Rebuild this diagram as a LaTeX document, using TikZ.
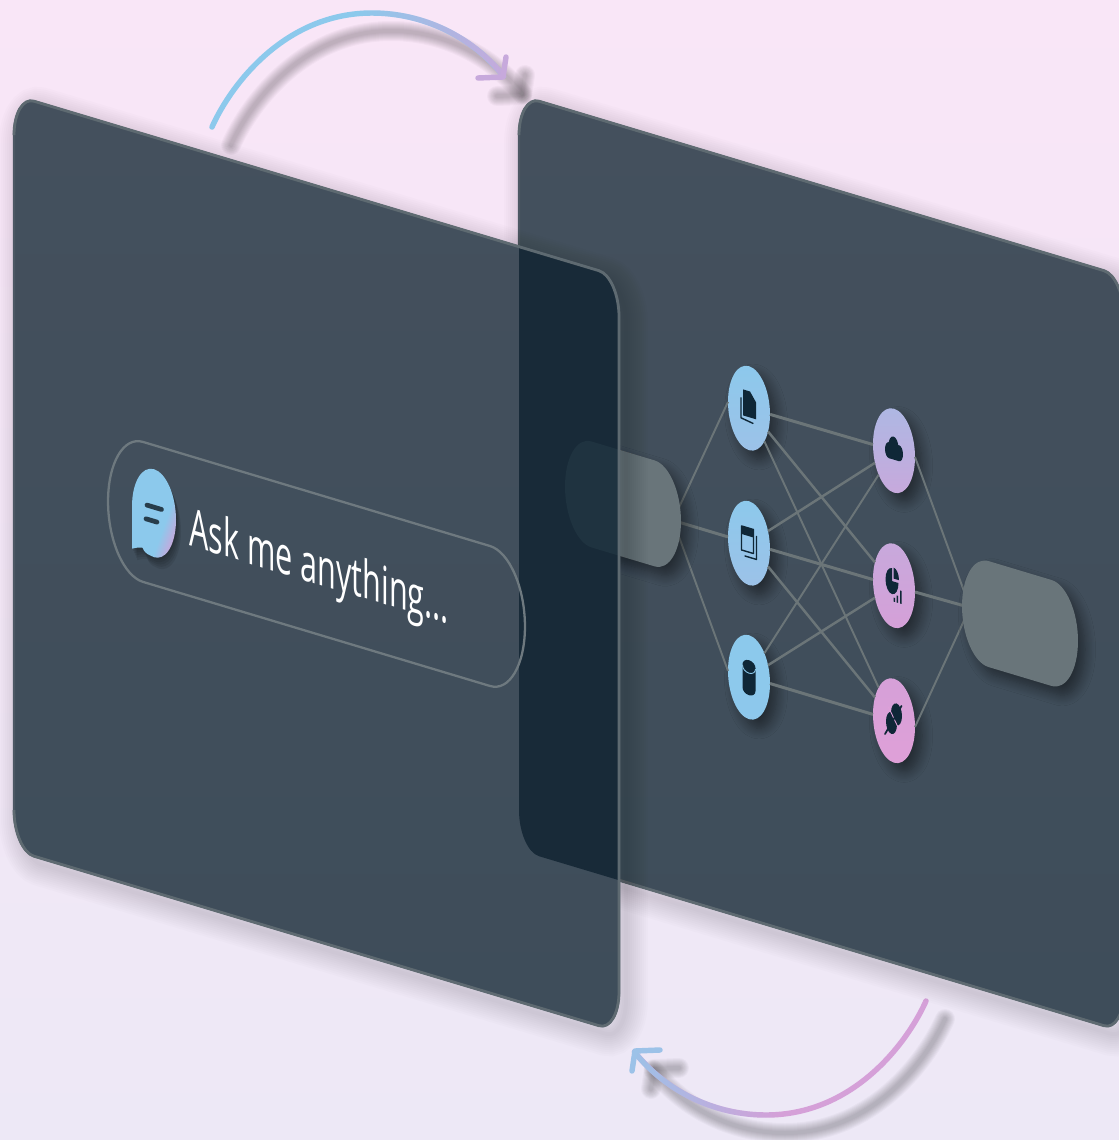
\documentclass[tikz,border=0pt]{standalone}
\usepackage{fontspec}
\setmainfont{Open Sans}
\usepackage{xcolor}
\usetikzlibrary{shapes.misc, shadows.blur, fadings}

\definecolor{bgtop}{HTML}{F9E6F7}
\definecolor{bgbot}{HTML}{EDE8F6}
\definecolor{planetop}{HTML}{44505D}
\definecolor{planebot}{HTML}{3E4D5A}
\definecolor{planeline}{HTML}{5E6A71}
\definecolor{planefaint}{HTML}{4C5864}
\definecolor{overlapdark}{HTML}{182A38}
\definecolor{pillgray}{HTML}{69757A}
\definecolor{pilldark}{HTML}{1F3340}
\definecolor{linkgray}{HTML}{6B7578}
\definecolor{iconink}{HTML}{0F2737}
\definecolor{arcblue}{HTML}{8CC9EC}
\definecolor{arcpurple}{HTML}{C7A9DC}
\definecolor{arcpink}{HTML}{D5A0D8}
\definecolor{arcsky}{HTML}{9CC2E8}
\definecolor{plugpink}{HTML}{DFA0D8}

\tikzfading[name=latefade, left color=transparent!100, right color=transparent!0, middle color=transparent!100]
\pgfdeclarehorizontalshading{bubbletone}{100bp}{color(0bp)=(arcblue); color(62bp)=(arcblue); color(78bp)=(arcpink); color(100bp)=(arcpink)}

\newcommand{\planeedge}{(28,131) arc[start angle=180,end angle=270,radius=40] -- (1198,91) arc[start angle=-90,end angle=0,radius=40] -- (1238,806) arc[start angle=0,end angle=90,radius=40] -- (68,846) arc[start angle=90,end angle=180,radius=40]}
\newcommand{\toparc}{(topstart) .. controls (231,84.5) and (285,13) .. (topapex) arc[start angle=-90,end angle=-38.8,radius=168.7]}
\newcommand{\lowarc}{(lowstart) .. controls (907,1043.5) and (853,1115) .. (lowapex) arc[start angle=90,end angle=141.2,radius=168.7]}
\newcommand{\bubblepath}{(-44,0) arc[start angle=180,end angle=360,radius=44] arc[start angle=0,end angle=100,radius=44] .. controls (-16,43) and (-20,41) .. (-23,38) .. controls (-32,39) .. (-44,42) -- cycle}

\begin{document}
\begin{tikzpicture}[
    x=0.02cm, y=-0.02cm,
    skewed/.style={cm={0.5,-0.15,0,1,(0,0)}},
    rightplane/.style={shift={(1010,-151.5)}},
    planefill/.style={top color=planetop, bottom color=planebot, draw=none},
    planeborder/.style={draw=planeline, line width=1.6pt, line join=round},
    softline/.style={draw=black, opacity=0.012},
    arcline/.style={line width=3.1pt, line cap=round, line join=round},
    arcshade/.style={draw=black, opacity=0.028, line cap=round, line join=round},
    softdrop/.style={blur shadow={shadow xshift=4pt, shadow yshift=-5pt, shadow opacity=45, shadow blur steps=10, shadow blur radius=6pt}},
    netnode/.style={circle, minimum size=1.68cm, inner sep=0pt, outer sep=0pt, transform shape, softdrop},
    pillnode/.style={rounded rectangle, minimum width=4.64cm, minimum height=2.12cm, inner sep=0pt, outer sep=0pt, transform shape},
    linkflat/.style={draw=linkgray, line width=1.7pt},
    linkmid/.style={draw=linkgray, line width=1.4pt},
    linksteep/.style={draw=linkgray, line width=1.1pt},
    icon/.style={fill=iconink, draw=none},
    iconstroke/.style={draw=iconink, line width=0.8pt, line cap=round, line join=round},
]

\clip (0,0) rectangle (1119,1140);
\useasboundingbox (0,0) rectangle (1119,1140);
\shade[top color=bgtop, bottom color=bgbot] (0,0) rectangle (1119,1140);

% curved arrows
\coordinate (topstart) at (212,127);
\coordinate (topapex) at (372,13);
\coordinate (toptip) at (503,77);
\coordinate (topheada) at (478,78);
\coordinate (topheadb) at (506,57);
\coordinate (lowstart) at (926,1001);
\coordinate (lowapex) at (766,1115);
\coordinate (lowtip) at (635,1051);
\coordinate (lowheada) at (660,1050);
\coordinate (lowheadb) at (632,1071);

\begin{scope}[transform canvas={shift={(19,18)}}]
\foreach \w in {4,6,8,10,12,14,16,18,20} {
    \draw[arcshade, line width=\w*0.02cm] \toparc;
    \draw[arcshade, line width=\w*0.02cm] \lowarc;
    \draw[arcshade, line width=\w*0.02cm] (topheada) -- (toptip) -- (topheadb);
    \draw[arcshade, line width=\w*0.02cm] (lowheada) -- (lowtip) -- (lowheadb);
}
\end{scope}

\draw[arcline, draw=arcblue] \toparc;
\draw[arcline, draw=arcpurple, path fading=latefade] \toparc;
\draw[arcline, draw=arcpurple] (topheada) -- (toptip) -- (topheadb);
\draw[arcline, draw=arcpink] \lowarc;
\draw[arcline, draw=arcsky, path fading=latefade, fading angle=180] \lowarc;
\draw[arcline, draw=arcsky] (lowheada) -- (lowtip) -- (lowheadb);

\begin{scope}[skewed]

% right plane with the network
\begin{scope}[rightplane]
\foreach \w in {4,8,...,44} {
    \draw[softline, line width=\w*0.02cm, shift={(14,6)}] \planeedge -- cycle;
}
\path[planefill] \planeedge -- cycle;
\draw[draw=planefaint, line width=1.2pt] \planeedge -- cycle;
\draw[planeborder] \planeedge;

\node[netnode, top color=arcblue, bottom color=arcsky] (doc) at (488,335) {};
\node[netnode, top color=arcblue, bottom color=arcsky] (win) at (488,470) {};
\node[netnode, top color=arcblue, bottom color=arcblue!90!arcsky] (cyl) at (488,604) {};
\node[netnode, top color=arcsky!60!arcpurple, bottom color=arcpurple] (cloud) at (778,334) {};
\node[netnode, top color=arcpurple, bottom color=arcpink] (pie) at (778,469) {};
\node[netnode, top color=arcpink, bottom color=plugpink] (plug) at (778,604) {};

\coordinate (inhub) at (336,470);
\coordinate (outhub) at (930,468);

\draw[linksteep] (inhub) -- (doc.west);
\draw[linkflat] (inhub) -- (win.west);
\draw[linksteep] (inhub) -- (cyl.west);
\draw[linkflat] (doc) -- (cloud);
\draw[linkmid] (doc) -- (pie);
\draw[linksteep] (doc) -- (plug);
\draw[linkmid] (win) -- (cloud);
\draw[linkflat] (win) -- (pie);
\draw[linkmid] (win) -- (plug);
\draw[linksteep] (cyl) -- (cloud);
\draw[linkmid] (cyl) -- (pie);
\draw[linkflat] (cyl) -- (plug);
\draw[linksteep] (cloud.east) -- (outhub);
\draw[linkflat] (pie.east) -- (outhub);
\draw[linksteep] (plug.east) -- (outhub);

\node[pillnode, fill=pillgray, softdrop] (inpill) at (236,468.5) {};
\node[pillnode, fill=pillgray, softdrop] (outpill) at (1030,469) {};

% icons
\begin{scope}[shift={(488,335)}]
\fill[icon] (-12,-17) -- (2,-17) -- (14,-8) -- (14,9) -- (-12,9) -- cycle;
\draw[iconstroke] (-16,-8) -- (-16,12) -- (8,14);
\end{scope}
\begin{scope}[shift={(488,470)}]
\fill[icon] (-15,-15) rectangle (9,-7);
\draw[iconstroke] (-15,-15) rectangle (9,9);
\draw[iconstroke] (15,-9) -- (15,14) -- (-8,14);
\end{scope}
\begin{scope}[shift={(488,604)}]
\fill[icon] (-13,-11) arc[start angle=180,end angle=360,x radius=13,y radius=6] -- (13,12) arc[start angle=0,end angle=180,x radius=13,y radius=6] -- cycle;
\draw[draw=arcblue, line width=0.5pt] (-13,-10) arc[start angle=180,end angle=0,x radius=13,y radius=6];
\end{scope}
\begin{scope}[shift={(778,334)}]
\fill[icon] (-10,1) circle[radius=8];
\fill[icon] (-1,-4) circle[radius=10];
\fill[icon] (10,1) circle[radius=8];
\fill[icon] (-10,1) rectangle (10,9);
\end{scope}
\begin{scope}[shift={(778,469)}]
\fill[icon] (-4,-4) -- (-4,-17) arc[start angle=-90,end angle=-360,radius=13] -- cycle;
\fill[icon] (-1,-7) -- (-1,-18) arc[start angle=-90,end angle=0,radius=11] -- cycle;
\fill[icon] (-1,12) rectangle (2,16);
\fill[icon] (5,9) rectangle (8,16);
\fill[icon] (12,3) rectangle (15,16);
\end{scope}
\begin{scope}[shift={(778,604)}]
\fill[icon] (5,-7) circle[radius=11];
\fill[icon] (-5,3) circle[radius=11];
\draw[draw=plugpink, line width=0.5pt] (-11,-12) -- (11,8);
\draw[draw=iconink, line width=1pt, line cap=round] (15,-17) -- (-18,16);
\end{scope}
\end{scope}

% left plane over it
\foreach \w in {4,8,...,44} {
    \draw[softline, line width=\w*0.02cm, shift={(14,6)}] \planeedge -- cycle;
}
\path[planefill] \planeedge -- cycle;
\draw[draw=planefaint, line width=1.2pt] \planeedge -- cycle;

\begin{scope}
\clip[rightplane] \planeedge -- cycle;
\clip \planeedge -- cycle;
\fill[overlapdark] (0,-200) rectangle (2300,1000);
\node[pillnode, fill=pilldark, rightplane] (inshade) at (236,468.5) {};
\end{scope}
\draw[planeborder] \planeedge;

% chat box
\node[pillnode, draw=planeline!90!white, line width=1.3pt, minimum width=16.68cm, minimum height=2.8cm] (askbox) at (633,469) {};
\node[anchor=base west, inner sep=0pt, transform shape, xscale=1.16, text=white, font=\fontsize{30}{36}\selectfont] (asktext) at (378,489) {Ask me anything...};

\begin{scope}[shift={(308,467)}]
\foreach \d in {2,4,...,10} {
    \fill[black, opacity=0.08, shift={(\d,\d)}] \bubblepath;
}
\path[shading=bubbletone, shading angle=-20] \bubblepath;
\draw[draw=iconink!90!white, line width=2.7pt, line cap=round] (-14,-6) -- (15,-6);
\draw[draw=iconink!90!white, line width=2.7pt, line cap=round] (-16,8) -- (6,8);
\end{scope}

\end{scope}

\end{tikzpicture}
\end{document}
